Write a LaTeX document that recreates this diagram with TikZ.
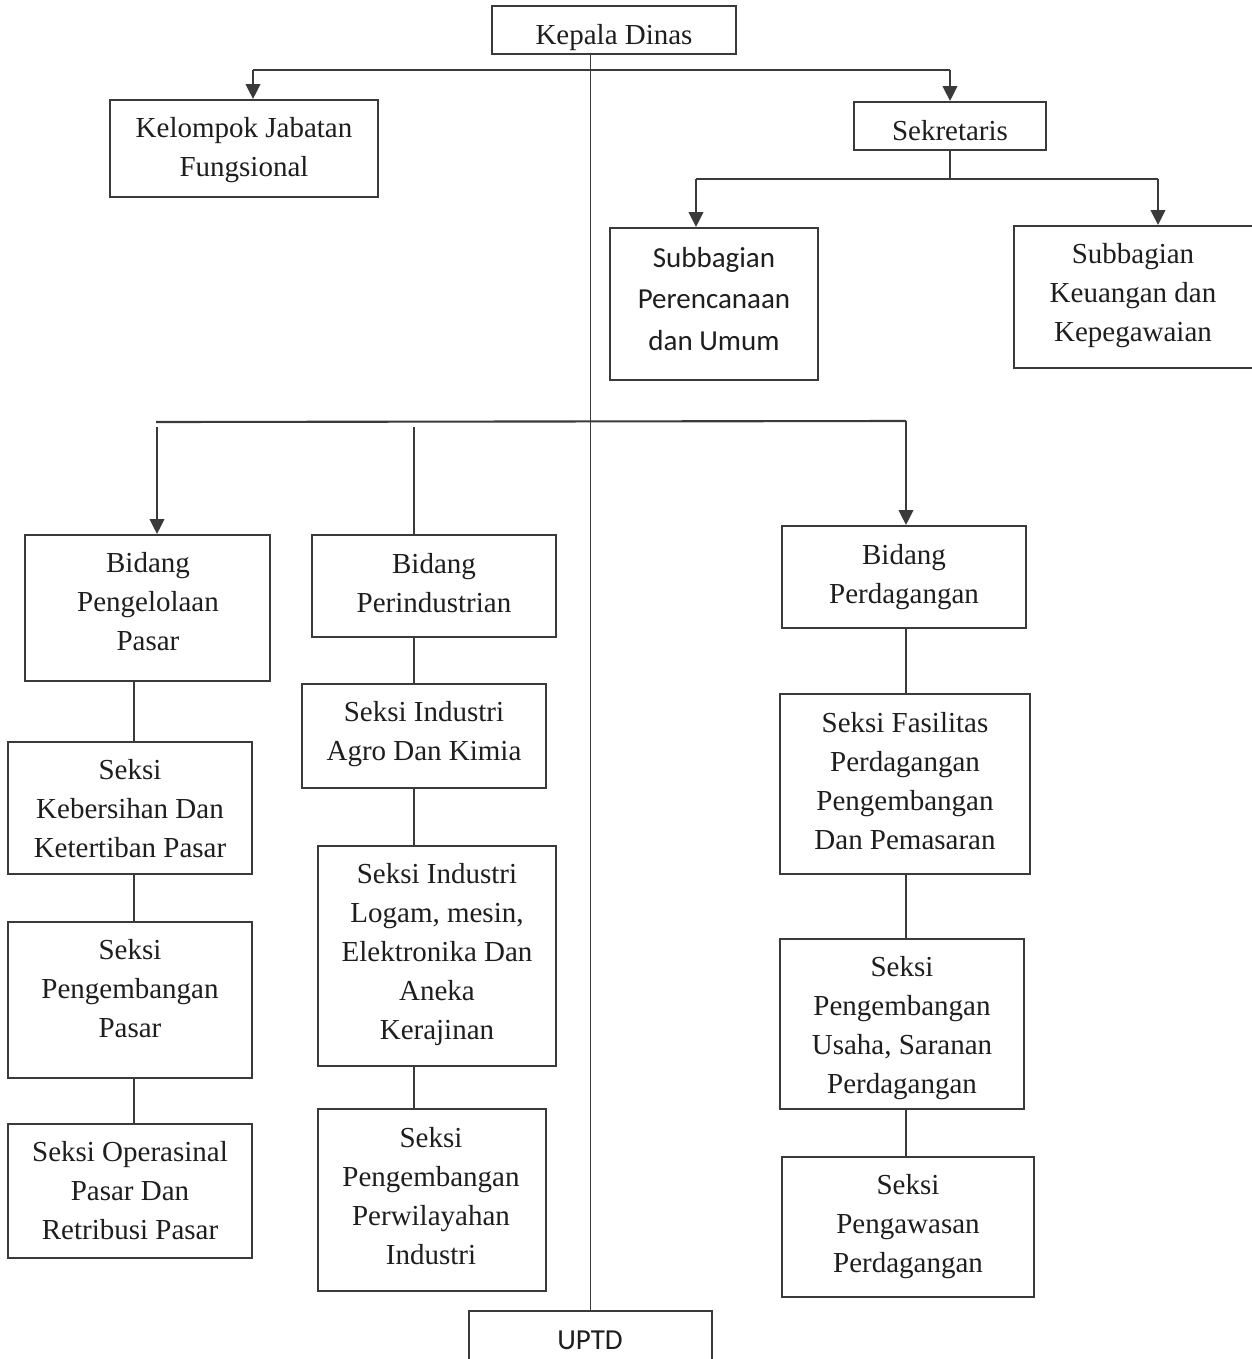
\documentclass[tikz,border=0pt]{standalone}
\usepackage{fontspec}
\setmainfont{Liberation Serif}
\newfontfamily\calib{Carlito}
\usetikzlibrary{arrows.meta,fit}
\definecolor{linec}{HTML}{3A3A3A}
\definecolor{txtc}{HTML}{1E1E1E}
\begin{document}
\begin{tikzpicture}[x=0.02cm,y=-0.02cm,
  box/.style={draw=linec, line width=1.15pt, inner sep=0pt},
  conn/.style={draw=linec, line width=1.05pt},
  hconn/.style={draw=linec, line width=1.2pt},
  arr/.style={draw=linec, fill=linec, line width=1.1pt, -{Triangle[length=8.5pt,width=8.3pt]}},
  txt/.style={font=\fontsize{16.5}{22.2}\selectfont, align=center, text=txtc, inner sep=0pt},
  ctxt/.style={font=\calib\fontsize{16.5}{23.6}\selectfont, align=center, text=txtc, inner sep=0pt}
]
\useasboundingbox (0,0) rectangle (1251,1359);
\fill[white] (0,0) rectangle (1251,1359);

% boxes
\node[box, fit={(492,6) (736,54)}] (kd) {};
\node[box, fit={(110,100) (378,197)}] (kjf) {};
\node[box, fit={(854,102) (1046,150)}] (sek) {};
\node[box, fit={(610,228) (818,380)}] (sp) {};
\node[box, fit={(1014,226) (1258,368)}] (sk) {};
\node[box, fit={(25,535) (270,681)}] (bpp) {};
\node[box, fit={(312,535) (556,637)}] (bpi) {};
\node[box, fit={(782,526) (1026,628)}] (bpd) {};
\node[box, fit={(8,742) (252,874)}] (skb) {};
\node[box, fit={(8,922) (252,1078)}] (spp) {};
\node[box, fit={(8,1124) (252,1258)}] (sop) {};
\node[box, fit={(302,684) (546,788)}] (sia) {};
\node[box, fit={(318,846) (556,1066)}] (sil) {};
\node[box, fit={(318,1109) (546,1291)}] (spw) {};
\node[box, fit={(780,694) (1030,874)}] (sfp) {};
\node[box, fit={(780,939) (1024,1109)}] (spu) {};
\node[box, fit={(782,1157) (1034,1297)}] (spg) {};
\node[box, fit={(469,1311) (712,1368)}] (uptd) {};

% texts
\node[txt] (t1) at (614,38) {Kepala Dinas};
\node[txt] (t2) at (244,150) {Kelompok Jabatan\\Fungsional};
\node[txt] (t3) at (950,131) {Sekretaris};
\node[ctxt] (t4) at (714,299) {Subbagian\\Perencanaan\\dan Umum};
\node[txt] (t5) at (1133,296) {Subbagian\\Keuangan dan\\Kepegawaian};
\node[txt] (t6) at (148,602) {Bidang\\Pengelolaan\\Pasar};
\node[txt] (t7) at (434,583) {Bidang\\Perindustrian};
\node[txt] (t8) at (904,577) {Bidang\\Perdagangan};
\node[txt] (t9) at (130,809) {Seksi\\Kebersihan Dan\\Ketertiban Pasar};
\node[txt] (t10) at (130,989) {Seksi\\Pengembangan\\Pasar};
\node[txt] (t11) at (130,1191) {Seksi Operasinal\\Pasar Dan\\Retribusi Pasar};
\node[txt] (t12) at (424,734) {Seksi Industri\\Agro Dan Kimia};
\node[txt] (t13) at (437,955) {Seksi Industri\\Logam, mesin,\\Elektronika Dan\\Aneka\\Kerajinan};
\node[txt] (t14) at (431,1196) {Seksi\\Pengembangan\\Perwilayahan\\Industri};
\node[txt] (t15) at (905,781) {Seksi Fasilitas\\Perdagangan\\Pengembangan\\Dan Pemasaran};
\node[txt] (t16) at (902,1028) {Seksi\\Pengembangan\\Usaha, Saranan\\Perdagangan};
\node[txt] (t17) at (908,1227) {Seksi\\Pengawasan\\Perdagangan};
\node[ctxt] (t18) at (590,1340) {UPTD};

% helper coordinates
\coordinate (h1l) at (253,70);
\coordinate (h1r) at (950,70);
\coordinate (h2l) at (696,179);
\coordinate (h2r) at (1158,179);
\coordinate (h3l) at (156,422);
\coordinate (h3r) at (906,421);
\coordinate (g1) at (157,427);
\coordinate (g2) at (414,427);
\coordinate (cA) at (134,0);
\coordinate (cB) at (414,0);
\coordinate (cC) at (906,0);

% main vertical
\draw[conn] (uptd.north |- kd.south) -- (uptd.north);

% top level
\draw[hconn] (h1l) -- (h1r);
\draw[arr] (h1l) -- (h1l |- kjf.north);
\draw[arr] (h1r) -- (h1r |- sek.north);

% sekretaris
\draw[conn] (sek.south) -- (sek.south |- h2l);
\draw[hconn] (h2l) -- (h2r);
\draw[arr] (h2l) -- (h2l |- sp.north);
\draw[arr] (h2r) -- (h2r |- sk.north);

% bidang level
\draw[hconn] (h3l) -- (h3r);
\draw[arr] (g1) -- (g1 |- bpp.north);
\draw[conn] (g2) -- (g2 |- bpi.north);
\draw[arr] (h3r) -- (h3r |- bpd.north);

% column A
\draw[conn] (bpp.south -| cA) -- (skb.north -| cA);
\draw[conn] (skb.south -| cA) -- (spp.north -| cA);
\draw[conn] (spp.south -| cA) -- (sop.north -| cA);
% column B
\draw[conn] (bpi.south -| cB) -- (sia.north -| cB);
\draw[conn] (sia.south -| cB) -- (sil.north -| cB);
\draw[conn] (sil.south -| cB) -- (spw.north -| cB);
% column C
\draw[conn] (bpd.south -| cC) -- (sfp.north -| cC);
\draw[conn] (sfp.south -| cC) -- (spu.north -| cC);
\draw[conn] (spu.south -| cC) -- (spg.north -| cC);
\end{tikzpicture}
\end{document}
